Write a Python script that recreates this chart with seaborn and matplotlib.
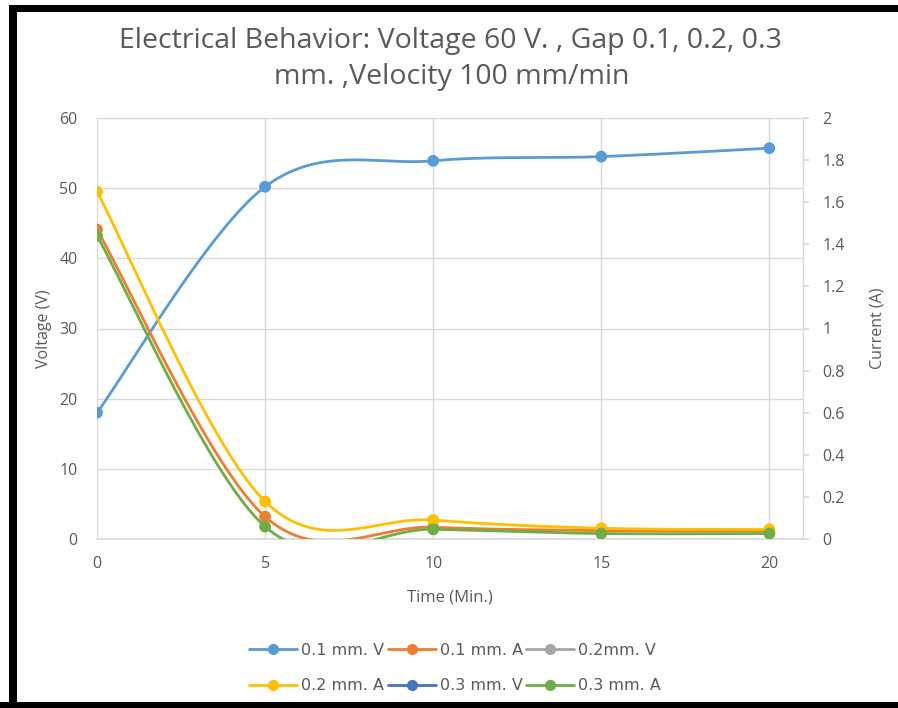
import numpy as np
import pandas as pd
import matplotlib
matplotlib.use("Agg")
import matplotlib.pyplot as plt
import seaborn as sns
from matplotlib.patches import Rectangle
from matplotlib.lines import Line2D

# ---- data ----
time_min = [0, 5, 10, 15, 20]
v_01 = [18.0, 50.2, 53.9, 54.5, 55.7]          # 0.1 mm. V  (left axis)
a_01 = [1.47, 0.106, 0.056, 0.040, 0.038]      # 0.1 mm. A  (right axis)
a_02 = [1.65, 0.178, 0.090, 0.051, 0.046]      # 0.2 mm. A
a_03 = [1.44, 0.059, 0.046, 0.026, 0.026]      # 0.3 mm. A
v_02 = []                                      # 0.2mm. V (not shown)
v_03 = []                                      # 0.3 mm. V (not shown)

labels = ["0.1 mm. V", "0.1 mm. A", "0.2mm. V", "0.2 mm. A", "0.3 mm. V", "0.3 mm. A"]
colors = ["#5B9BD5", "#ED7D31", "#A5A5A5", "#FFC000", "#4472C4", "#70AD47"]
volt_ticks = [0, 10, 20, 30, 40, 50, 60]
amp_ticks = [0, 0.2, 0.4, 0.6, 0.8, 1, 1.2, 1.4, 1.6, 1.8, 2]
x_ticks = [0, 5, 10, 15, 20]


def smooth(x, y, n=40):
    """Excel-like smoothing: cubic Bezier segments with Catmull-Rom control points."""
    x = np.asarray(x, float)
    y = np.asarray(y, float)
    P = np.column_stack([x, y])
    pts = []
    for i in range(len(P) - 1):
        p0 = P[i - 1] if i > 0 else P[i]
        p1 = P[i]
        p2 = P[i + 1]
        p3 = P[i + 2] if i + 2 < len(P) else P[i + 1]
        c1 = p1 + (p2 - p0) / 6.0
        c2 = p2 - (p3 - p1) / 6.0
        t = np.linspace(0, 1, n)[:, None]
        seg = ((1 - t) ** 3) * p1 + 3 * ((1 - t) ** 2) * t * c1 + 3 * (1 - t) * t ** 2 * c2 + t ** 3 * p2
        pts.append(seg if i == 0 else seg[1:])
    pts = np.vstack(pts)
    return pd.DataFrame({"x": pts[:, 0], "y": pts[:, 1]})


sns.set_theme(style="white")
plt.rcParams["font.family"] = ["Open Sans", "DejaVu Sans"]

fig = plt.figure(figsize=(8.98, 7.08), dpi=100)
ax = fig.add_axes([97 / 898, 1 - 539 / 708, (803 - 97) / 898, (539 - 118) / 708])
ax2 = ax.twinx()

grid_c = "#D9D9D9"
text_c = "#595959"
lw = 2.0
ms = 8.5

# voltage series on left axis
d = smooth(time_min, v_01)
sns.lineplot(data=d, x="x", y="y", ax=ax, sort=False, color=colors[0], lw=lw, estimator=None)
sns.scatterplot(x=time_min, y=v_01, ax=ax, color=colors[0], s=ms ** 2, edgecolor="none", zorder=5)

# current series on right axis
for vals, col in [(a_01, colors[1]), (a_02, colors[3]), (a_03, colors[5])]:
    d = smooth(time_min, vals)
    sns.lineplot(data=d, x="x", y="y", ax=ax2, sort=False, color=col, lw=lw, estimator=None)
    sns.scatterplot(x=time_min, y=vals, ax=ax2, color=col, s=ms ** 2, edgecolor="none", zorder=5)

# axes limits and grid
ax.set_xlim(0, 21)
ax.set_ylim(0, 60)
ax2.set_ylim(0, 2)
ax.set_xticks(x_ticks)
ax.set_yticks(volt_ticks)
ax2.set_yticks(amp_ticks)
ax2.set_yticklabels([f"{v:g}" for v in amp_ticks])
ax.set_xticklabels([str(v) for v in x_ticks])
ax.set_yticklabels([str(v) for v in volt_ticks])

ax.grid(True, color=grid_c, lw=1.0)
ax.set_axisbelow(True)
ax2.grid(False)
for s in ["left", "top"]:
    ax.spines[s].set_visible(False)
    ax2.spines[s].set_visible(False)
ax.spines["right"].set_visible(False)
ax.spines["bottom"].set_color(grid_c)
ax2.spines["bottom"].set_visible(False)
ax2.spines["right"].set_color(grid_c)
ax2.spines["right"].set_linewidth(1.0)

tick_fs = 11.5
ax.tick_params(axis="x", length=0, labelsize=tick_fs, labelcolor=text_c, pad=12)
ax.tick_params(axis="y", length=0, labelsize=tick_fs, labelcolor=text_c, pad=14)
ax2.tick_params(axis="y", direction="out", length=4, color=grid_c, labelsize=tick_fs,
                labelcolor=text_c, pad=10, right=True)

ax.set_xlabel("Time (Min.)", fontsize=12, color=text_c, labelpad=13)
ax.set_ylabel("Voltage (V)", fontsize=11.5, color=text_c, labelpad=5)
ax2.set_ylabel("Current (A)", fontsize=11.5, color=text_c, labelpad=18, rotation=90)

fig.text(450 / 898, 1 - 41 / 708, "Electrical Behavior: Voltage 60 V. , Gap 0.1, 0.2, 0.3",
         ha="center", va="center", fontsize=20.5, color=text_c)
fig.text(452 / 898, 1 - 77 / 708, "mm. ,Velocity 100 mm/min",
         ha="center", va="center", fontsize=20.5, color=text_c)

# legend (row-major order like the reference)
handles = [Line2D([0], [0], color=c, lw=lw, marker="o", markersize=7) for c in colors]
order = [0, 3, 1, 4, 2, 5]
leg = fig.legend([handles[i] for i in order], [labels[i] for i in order], loc="center",
                 bbox_to_anchor=(455 / 898, 1 - 668 / 708), ncol=3, frameon=False,
                 handlelength=3.0, handletextpad=0.25, columnspacing=0.2, labelspacing=1.3,
                 prop={"family": "DejaVu Sans", "size": 11.5})
for t in leg.get_texts():
    t.set_color(text_c)

# black frame (left, top, bottom)
W, H = 898, 708
def px_rect(x0, y0, x1, y1, color="black"):
    fig.add_artist(Rectangle((x0 / W, 1 - y1 / H), (x1 - x0) / W, (y1 - y0) / H,
                             transform=fig.transFigure, color=color, lw=0, zorder=10))
px_rect(9, 5, 17, 708)
px_rect(9, 5, 898, 12)
px_rect(0, 702, 898, 708)

fig.savefig("out.png", dpi=100)
